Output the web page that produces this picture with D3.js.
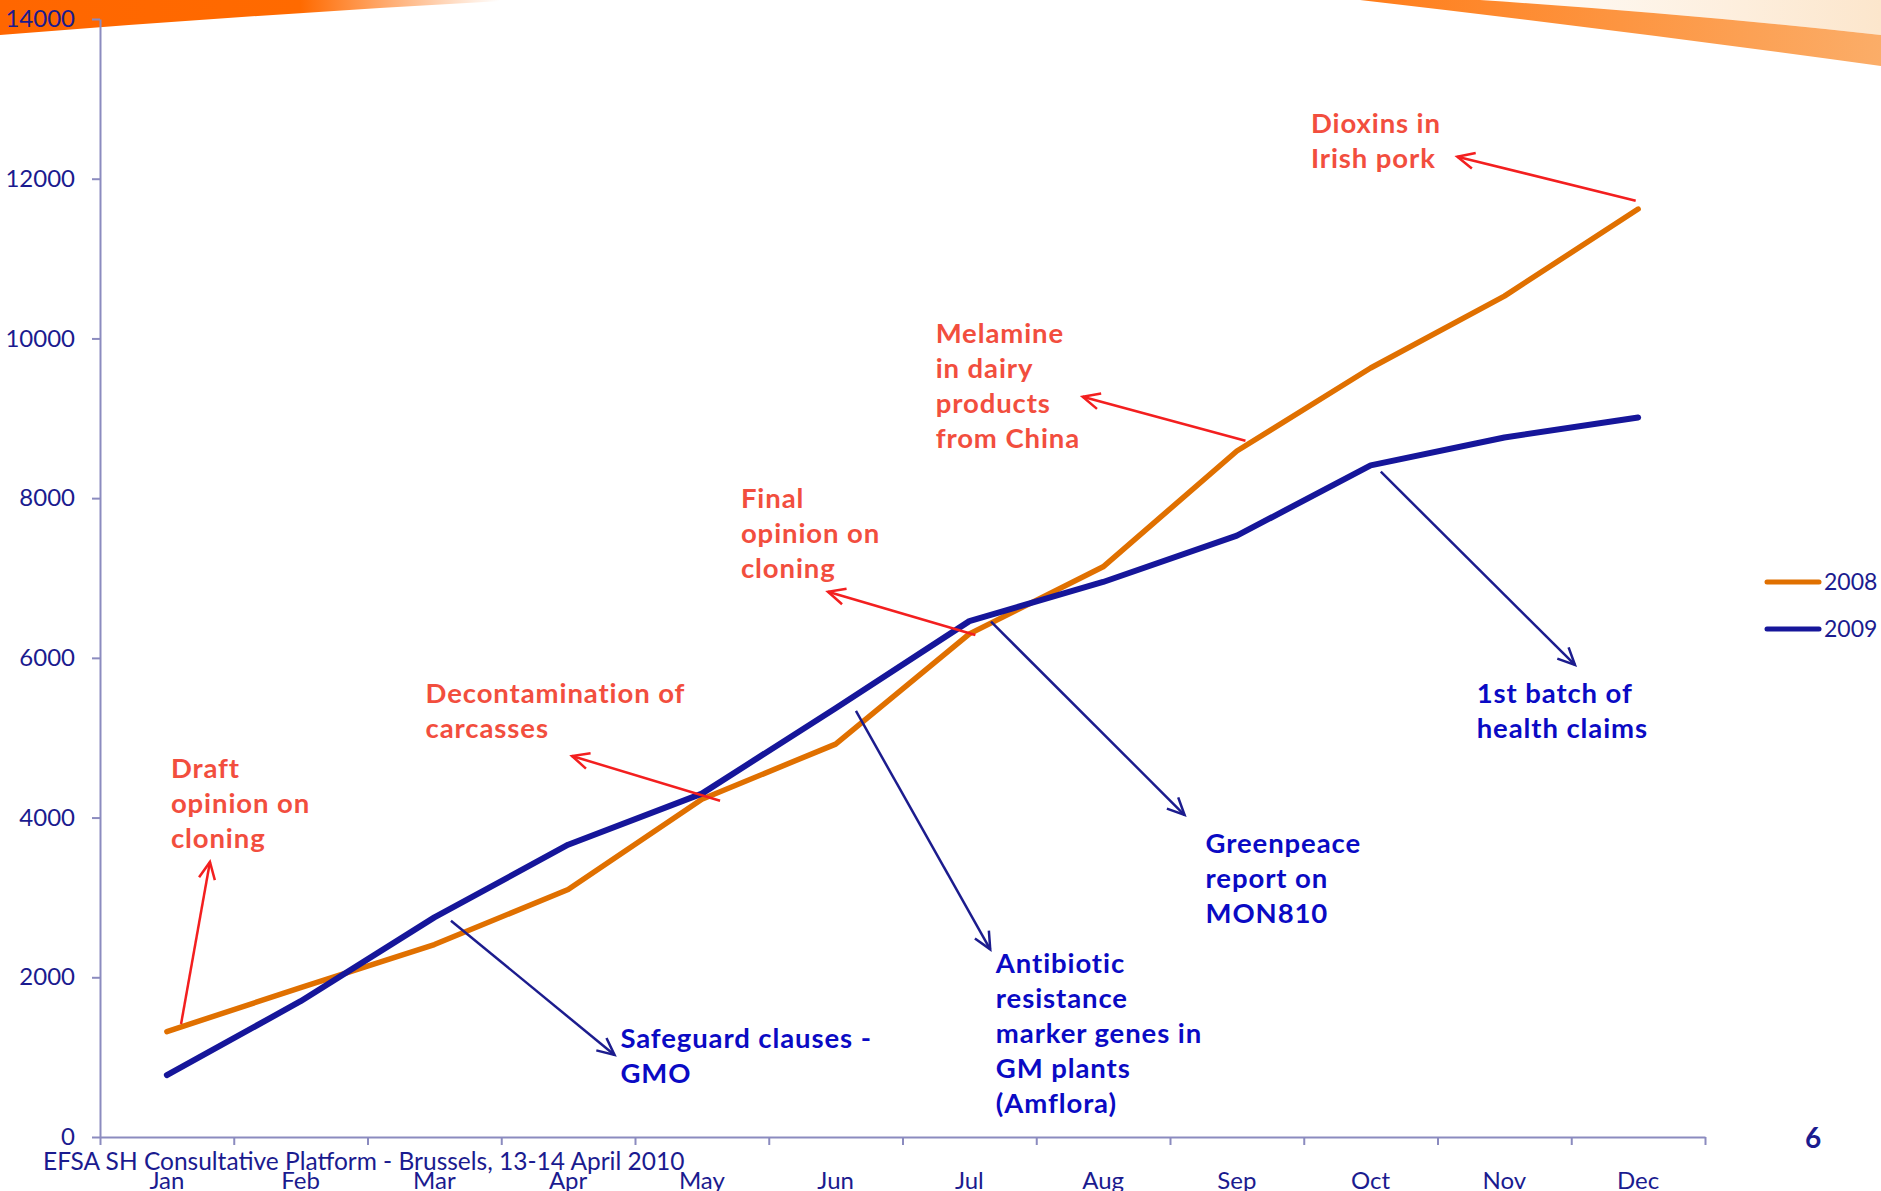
<!DOCTYPE html>
<html>
<head>
<meta charset="utf-8">
<script src="https://cdn.jsdelivr.net/npm/d3@7"></script>
<style>
  html, body { margin: 0; padding: 0; background: #fff; }
  svg { display: block; font-family: Lato, "Open Sans", sans-serif; }
</style>
</head>
<body>
<div id="chart"></div>
<script>
// ---- data ----
const months = ['Jan', 'Feb', 'Mar', 'Apr', 'May', 'Jun', 'Jul', 'Aug', 'Sep', 'Oct', 'Nov', 'Dec'];
const values2008 = [1320, 1870, 2410, 3100, 4230, 4920, 6300, 7140, 8590, 9630, 10530, 11620];
const values2009 = [775, 1700, 2750, 3660, 4300, 5370, 6460, 6950, 7530, 8410, 8760, 9010];
const seriesNames = ['2008', '2009'];
const yTicks = [0, 2000, 4000, 6000, 8000, 10000, 12000, 14000];
const footerText = 'EFSA SH Consultative Platform - Brussels, 13-14 April 2010';
const pageNumber = '6';

// annotations, anchored in chart units: [month position (0 = left edge), value]
const notes = [
  { lines: ['Draft', 'opinion on', 'cloning'], kind: 'red', at: [0.53, 4496], from: [0.606, 1415], to: [0.822, 3444] },
  { lines: ['Decontamination of', 'carcasses'], kind: 'red', at: [2.434, 5431], from: [4.636, 4211], to: [3.529, 4771] },
  { lines: ['Final', 'opinion on', 'cloning'], kind: 'red', at: [4.792, 7873], from: [6.545, 6286], to: [5.443, 6828] },
  { lines: ['Melamine', 'in dairy', 'products', 'from China'], kind: 'red', at: [6.248, 9939], from: [8.564, 8719], to: [7.347, 9270] },
  { lines: ['Dioxins in', 'Irish pork'], kind: 'red', at: [9.054, 12569], from: [11.482, 11725], to: [10.148, 12276] },
  { lines: ['Safeguard clauses -', 'GMO'], kind: 'blue', at: [3.891, 1115], from: [2.624, 2709], to: [3.847, 1027] },
  { lines: ['Antibiotic', 'resistance', 'marker genes in', 'GM plants', '(Amflora)'], kind: 'blue', at: [6.698, 2050], from: [5.652, 5335], to: [6.656, 2350] },
  { lines: ['Greenpeace', 'report on', 'MON810'], kind: 'blue', at: [8.266, 3553], from: [6.662, 6453], to: [8.109, 4032] },
  { lines: ['1st batch of', 'health claims'], kind: 'blue', at: [10.293, 5431], from: [9.576, 8331], to: [11.028, 5911] }
];

// ---- styles ----
const W = 1881, H = 1191;
const margin = { left: 100, right: 176, top: 19, bottom: 54 };
const axisColor = '#8b8bbf';
const labelColor = '#1b1b8f';
const seriesColors = ['#e07000', '#16169a'];
const noteText = { red: '#f24e3e', blue: '#0a0ac4' };
const noteArrow = { red: '#f31f1f', blue: '#1c1c8e' };

const svg = d3.select('#chart').append('svg')
    .attr('width', W)
    .attr('height', H);

const defs = svg.append('defs');

// slide decoration at the top
const gl = defs.append('linearGradient').attr('id', 'leftFade')
    .attr('gradientUnits', 'userSpaceOnUse')
    .attr('x1', 0).attr('y1', 0).attr('x2', 500).attr('y2', 0);
gl.append('stop').attr('offset', 0).attr('stop-color', '#ff6600');
gl.append('stop').attr('offset', 0.6).attr('stop-color', '#ff6a00');
gl.append('stop').attr('offset', 1).attr('stop-color', '#ffffff');

const gb = defs.append('linearGradient').attr('id', 'bandFade')
    .attr('gradientUnits', 'userSpaceOnUse')
    .attr('x1', 1360).attr('y1', 0).attr('x2', 1881).attr('y2', 0);
gb.append('stop').attr('offset', 0).attr('stop-color', '#ff7d1a');
gb.append('stop').attr('offset', 1).attr('stop-color', '#fbad68');

const gp = defs.append('linearGradient').attr('id', 'peachFade')
    .attr('gradientUnits', 'userSpaceOnUse')
    .attr('x1', 1450).attr('y1', 0).attr('x2', 1881).attr('y2', 0);
gp.append('stop').attr('offset', 0).attr('stop-color', '#ffffff');
gp.append('stop').attr('offset', 1).attr('stop-color', '#fce6cc');

svg.append('path')
    .attr('d', 'M0,0 L520,0 Q260,14 0,35 Z')
    .attr('fill', 'url(#leftFade)');
svg.append('path')
    .attr('d', 'M1480,0 Q1690,14 1881,35 L1881,0 Z')
    .attr('fill', 'url(#peachFade)');
svg.append('path')
    .attr('d', 'M1360,0 Q1620,30 1881,66 L1881,35 Q1690,14 1480,0 Z')
    .attr('fill', 'url(#bandFade)');

// scales
const xBand = d3.scaleBand(months, [margin.left, W - margin.right]);
const xUnit = d3.scaleLinear([0, months.length], [margin.left, W - margin.right]);
const y = d3.scaleLinear([0, 14000], [H - margin.bottom, margin.top]);

// y axis
const yAxis = svg.append('g')
    .attr('transform', `translate(${margin.left}, 0)`)
    .call(d3.axisLeft(y).tickValues(yTicks).tickSize(8).tickSizeOuter(0).tickPadding(17).tickFormat(d3.format('d')));
yAxis.select('.domain').attr('stroke', axisColor).attr('stroke-width', 2);
yAxis.selectAll('.tick line').attr('stroke', axisColor).attr('stroke-width', 2);
yAxis.selectAll('.tick text')
    .attr('fill', labelColor)
    .style('font-size', '24px')
    .style('font-family', 'Lato, sans-serif');

// x axis: ticks on the month boundaries, labels in the middle
const xAxis = svg.append('g')
    .attr('transform', `translate(0, ${H - margin.bottom})`)
    .call(d3.axisBottom(xUnit).tickValues(d3.range(0, months.length + 1)).tickSize(8).tickSizeOuter(0).tickFormat(''));
xAxis.select('.domain').attr('stroke', axisColor).attr('stroke-width', 2);
xAxis.selectAll('.tick line').attr('stroke', axisColor).attr('stroke-width', 2);

svg.append('g')
    .selectAll('text')
    .data(months)
    .join('text')
        .attr('x', d => xBand(d) + xBand.bandwidth() / 2)
        .attr('y', H - margin.bottom + 52)
        .attr('text-anchor', 'middle')
        .attr('fill', labelColor)
        .style('font-size', '24px')
        .text(d => d);

// footer (sits over the month labels, as on the slide)
svg.append('text')
    .attr('x', 43)
    .attr('y', 1170)
    .attr('fill', labelColor)
    .style('font-size', '24.5px')
    .text(footerText);

svg.append('text')
    .attr('x', 1813)
    .attr('y', 1148)
    .attr('text-anchor', 'middle')
    .attr('fill', labelColor)
    .style('font-size', '28px')
    .style('font-weight', 'bold')
    .text(pageNumber);

// series
const line = d3.line()
    .x((d, i) => xBand(months[i]) + xBand.bandwidth() / 2)
    .y(d => y(d));

[values2008, values2009].forEach((vals, i) => {
    svg.append('path')
        .datum(vals)
        .attr('d', line)
        .attr('fill', 'none')
        .attr('stroke', seriesColors[i])
        .attr('stroke-width', i === 0 ? 5.5 : 6)
        .attr('stroke-linejoin', 'round')
        .attr('stroke-linecap', 'round');
});

// legend
seriesNames.forEach((name, i) => {
    const ly = 582 + 47 * i;
    svg.append('line')
        .attr('x1', 1767).attr('x2', 1819)
        .attr('y1', ly).attr('y2', ly)
        .attr('stroke', seriesColors[i])
        .attr('stroke-width', 5)
        .attr('stroke-linecap', 'round');
    svg.append('text')
        .attr('x', 1824)
        .attr('y', ly)
        .attr('dy', '0.35em')
        .attr('fill', labelColor)
        .style('font-size', '23px')
        .text(name);
});

// arrow heads
Object.keys(noteArrow).forEach(k => {
    defs.append('marker')
        .attr('id', `head-${k}`)
        .attr('markerUnits', 'userSpaceOnUse')
        .attr('viewBox', '-22 -12 26 24')
        .attr('markerWidth', 26)
        .attr('markerHeight', 24)
        .attr('refX', 0).attr('refY', 0)
        .attr('orient', 'auto')
      .append('path')
        .attr('d', 'M-17,-8 L0,0 L-17,8')
        .attr('fill', 'none')
        .attr('stroke', noteArrow[k])
        .attr('stroke-width', 2.5);
});

// annotations
const noteG = svg.append('g');
notes.forEach(n => {
    noteG.append('line')
        .attr('x1', xUnit(n.from[0])).attr('y1', y(n.from[1]))
        .attr('x2', xUnit(n.to[0])).attr('y2', y(n.to[1]))
        .attr('stroke', noteArrow[n.kind])
        .attr('stroke-width', 2.5)
        .attr('marker-end', `url(#head-${n.kind})`);

    const t = noteG.append('text')
        .attr('fill', noteText[n.kind])
        .style('font-size', '27.5px')
        .style('font-weight', 'bold')
        .style('letter-spacing', '0.9px');
    n.lines.forEach((s, j) => {
        t.append('tspan')
            .attr('x', xUnit(n.at[0]))
            .attr('y', y(n.at[1]) + j * 35)
            .text(s);
    });
});
</script>
</body>
</html>
